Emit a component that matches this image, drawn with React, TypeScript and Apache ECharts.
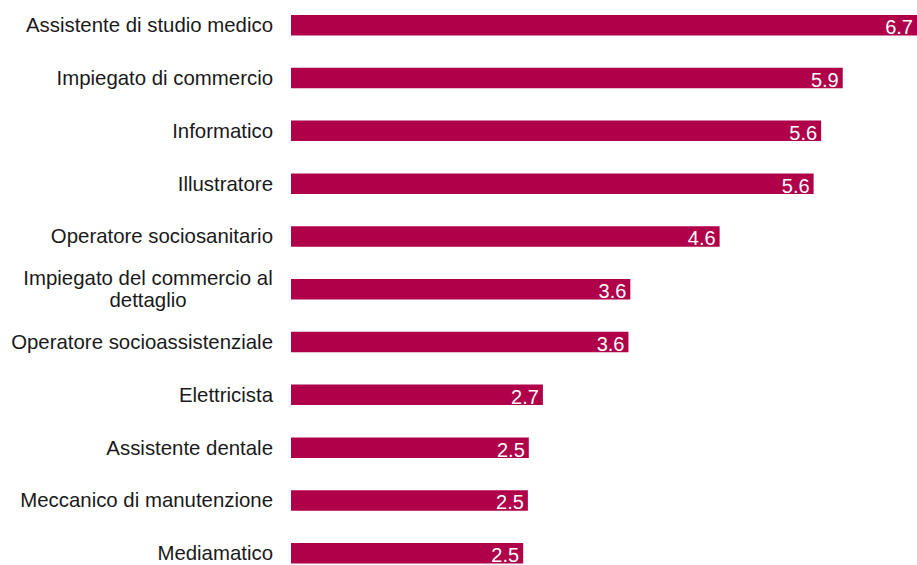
import React, { useEffect, useRef } from "react";
import * as echarts from "echarts";

const categories: string[] = [
  "Assistente di studio medico",
  "Impiegato di commercio",
  "Informatico",
  "Illustratore",
  "Operatore sociosanitario",
  "Impiegato del commercio al\ndettaglio",
  "Operatore socioassistenziale",
  "Elettricista",
  "Assistente dentale",
  "Meccanico di manutenzione",
  "Mediamatico",
];

const values: number[] = [6.66, 5.87, 5.64, 5.56, 4.56, 3.61, 3.59, 2.68, 2.53, 2.52, 2.47];

const FONT = "'Liberation Sans', Arial, sans-serif";

export default function App() {
  const ref = useRef<HTMLDivElement>(null);

  useEffect(() => {
    if (!ref.current) return;
    const chart = echarts.init(ref.current, undefined, { renderer: "svg" });
    chart.setOption({
      animation: false,
      backgroundColor: "#ffffff",
      grid: { left: 291, right: 0, top: 18.8, bottom: 20.3, containLabel: false },
      xAxis: {
        type: "value",
        min: 0,
        max: 6.66,
        show: false,
        splitLine: { show: false },
      },
      yAxis: {
        type: "category",
        data: categories,
        inverse: true,
        axisLine: { show: false },
        axisTick: { show: false },
        axisLabel: {
          margin: 18,
          fontSize: 20.4,
          fontFamily: FONT,
          color: "#1a1a1a",
          lineHeight: 22,
          formatter: (v: string) =>
            v.includes("\n")
              ? v
                  .split("\n")
                  .map((s) => `{c|${s}}`)
                  .join("\n")
              : v,
          rich: {
            c: {
              width: 250,
              align: "center",
              fontSize: 20.4,
              fontFamily: FONT,
              color: "#1a1a1a",
              lineHeight: 22,
            },
          },
        },
      },
      series: [
        {
          type: "bar",
          data: values,
          barWidth: 20.5,
          itemStyle: { color: "#b0004a" },
          label: {
            show: true,
            position: "insideRight",
            distance: 4,
            offset: [0, 2],
            color: "#ffffff",
            fontSize: 20,
            fontFamily: FONT,
            formatter: (p: any) => Number(p.value).toFixed(1),
          },
        },
      ],
    });
    return () => chart.dispose();
  }, []);

  return (
    <div
      style={{
        position: "fixed",
        left: 0,
        top: 0,
        width: 917,
        height: 565,
        overflow: "hidden",
      }}
    >
      <div
        ref={ref}
        style={{ position: "absolute", left: 0, top: -20, width: 917, height: 620 }}
      />
    </div>
  );
}
